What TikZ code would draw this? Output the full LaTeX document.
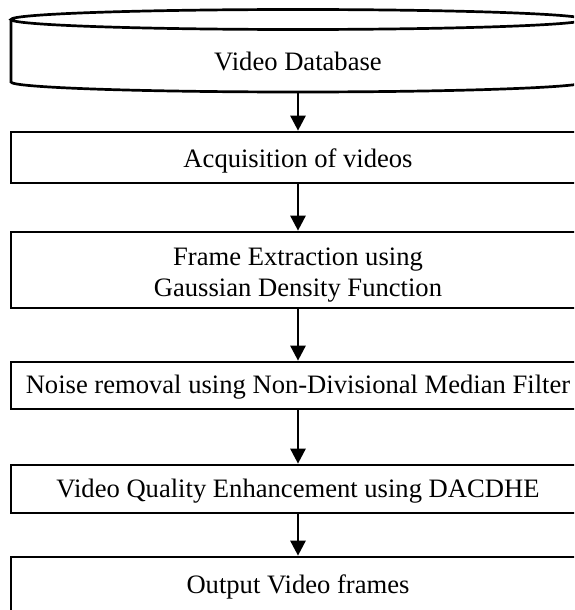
\documentclass[tikz,border=0pt]{standalone}
\usepackage{fontspec}
\setmainfont{Liberation Serif}
\usetikzlibrary{arrows.meta}
\begin{document}
\begin{tikzpicture}[x=1pt,y=-1pt,
  stepbox/.style={draw=black,line width=2.7pt,minimum width=574pt,inner sep=0pt},
  flow/.style={line width=2.7pt,-{Triangle[width=15pt,length=15pt]}},
  txt/.style={font=\fontsize{26.6}{31}\selectfont,inner sep=0pt,anchor=base}]
\useasboundingbox (0,0) rectangle (574,610);
\clip (0,0) rectangle (574,610);
% database cylinder
\draw[line width=2.7pt] (298,19.5) ellipse [x radius=287, y radius=10];
\draw[line width=2.7pt] (11,19.5) -- (11,82) arc[start angle=180,end angle=0,x radius=287,y radius=10] -- (585,19.5);
\node[txt] (db) at (298,70.5) {Video Database};
\coordinate (dbbot) at (298,92);
% boxes
\node[stepbox,minimum height=51pt] (acq) at (298,157.5) {};
\node[stepbox,minimum height=76pt] (fe) at (298,270) {};
\node[stepbox,minimum height=47pt] (nr) at (298,385.5) {};
\node[stepbox,minimum height=48pt] (vq) at (298,489) {};
\node[stepbox,minimum height=60pt] (out) at (298,587) {};
% texts
\node[txt] (acqt) at (298,167) {Acquisition of videos};
\node[txt] (fet1) at (298,265.5) {Frame Extraction using};
\node[txt] (fet2) at (298,296.5) {Gaussian Density Function};
\node[txt] (nrt) at (298,393.5) {Noise removal using Non-Divisional Median Filter};
\node[txt] (vqt) at (298,497.5) {Video Quality Enhancement using DACDHE};
\node[txt] (outt) at (298,593.5) {Output Video frames};
% connectors
\draw[flow] (dbbot) -- (acq.north);
\draw[flow] (acq.south) -- (fe.north);
\draw[flow] (fe.south) -- (nr.north);
\draw[flow] (nr.south) -- (vq.north);
\draw[flow] (vq.south) -- (out.north);
\end{tikzpicture}
\end{document}
